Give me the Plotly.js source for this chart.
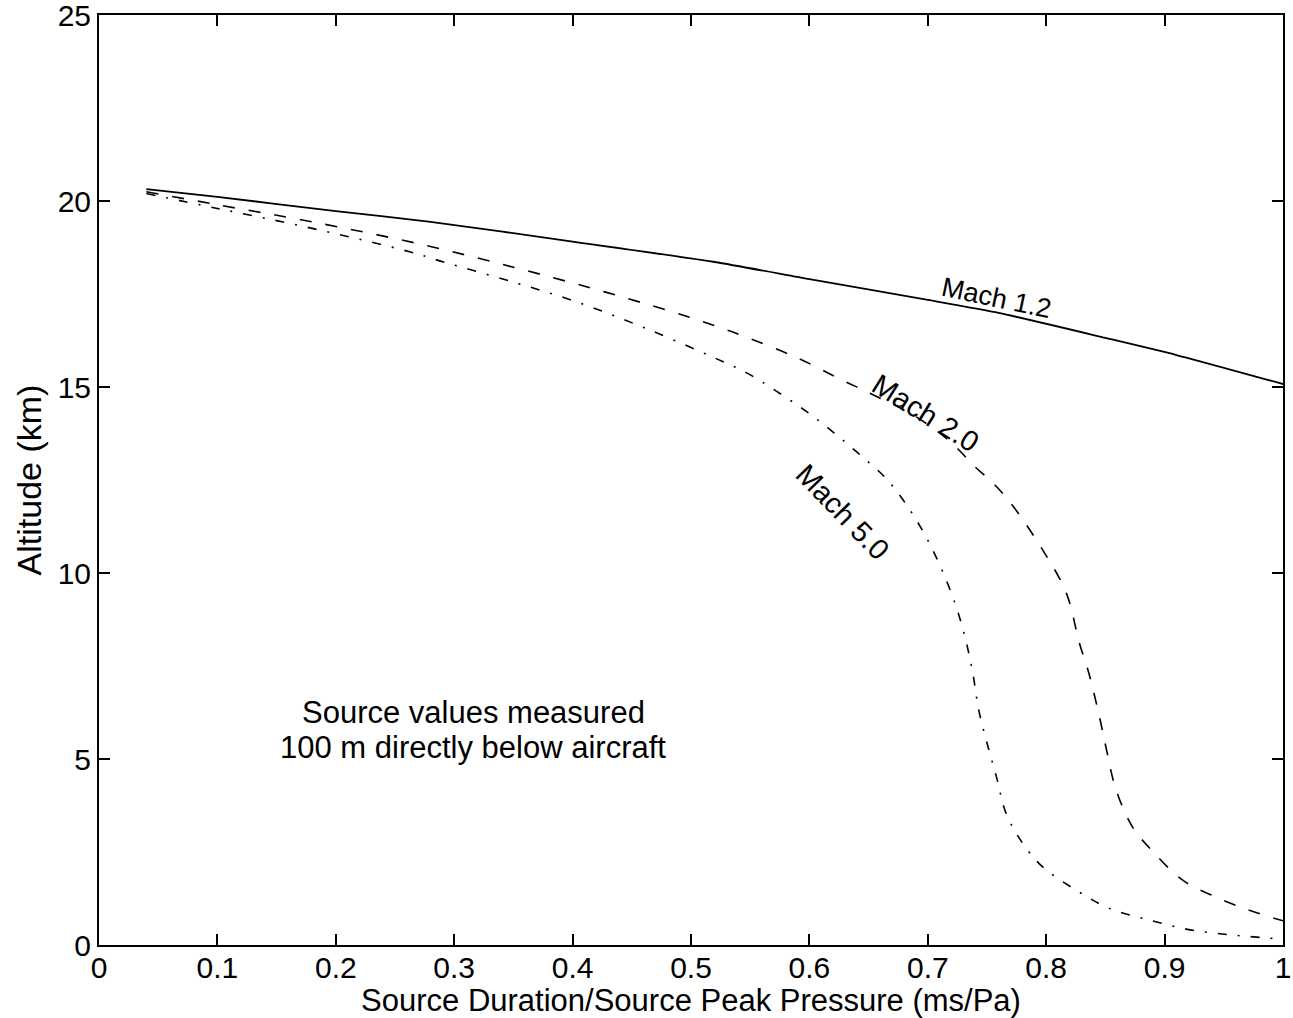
<!DOCTYPE html>
<html>
<head>
<meta charset="utf-8">
<script src="https://cdn.plot.ly/plotly-3.0.1.min.js"></script>
<style>html,body{margin:0;padding:0;background:#fff;}#chart{width:1293px;height:1018px;}</style>
</head>
<body>
<div id="chart"></div>
<script>
const mach12X = [0.04, 0.1, 0.2, 0.28, 0.4, 0.52, 0.6, 0.7, 0.76, 0.85, 0.91, 1.0];
const mach12Y = [20.32, 20.11, 19.73, 19.44, 18.91, 18.36, 17.9, 17.34, 16.99, 16.32, 15.86, 15.08];

const mach20X = [0.04, 0.1, 0.18, 0.27, 0.35, 0.42, 0.48, 0.52, 0.55, 0.59, 0.63, 0.65, 0.69, 0.72, 0.74, 0.755, 0.77, 0.797, 0.817, 0.828, 0.836, 0.845, 0.851, 0.859, 0.873, 0.889, 0.915, 0.943, 0.971, 1.0];
const mach20Y = [20.25, 19.9, 19.44, 18.85, 18.22, 17.62, 17.06, 16.65, 16.3, 15.78, 15.15, 14.85, 14.2, 13.5, 12.85, 12.42, 11.88, 10.62, 9.46, 8.12, 7.31, 6.13, 5.24, 4.17, 3.17, 2.55, 1.75, 1.29, 0.94, 0.65];

const mach50X = [0.04, 0.1, 0.175, 0.263, 0.291, 0.35, 0.406, 0.463, 0.518, 0.547, 0.573, 0.598, 0.62, 0.643, 0.666, 0.685, 0.699, 0.712, 0.724, 0.732, 0.738, 0.743, 0.75, 0.758, 0.766, 0.78, 0.797, 0.825, 0.853, 0.887, 0.923, 0.957, 0.986, 1.0];
const mach50Y = [20.2, 19.8, 19.3, 18.63, 18.36, 17.82, 17.26, 16.56, 15.81, 15.38, 14.87, 14.33, 13.79, 13.17, 12.5, 11.69, 10.94, 10.08, 9.09, 8.2, 7.31, 6.32, 5.43, 4.52, 3.55, 2.74, 2.1, 1.48, 0.99, 0.67, 0.4, 0.27, 0.19, 0.16];

const xTicks = [0, 0.1, 0.2, 0.3, 0.4, 0.5, 0.6, 0.7, 0.8, 0.9, 1];
const xTickText = ['0', '0.1', '0.2', '0.3', '0.4', '0.5', '0.6', '0.7', '0.8', '0.9', '1'];
const yTicks = [0, 5, 10, 15, 20, 25];

const labels = [
  {text: 'Mach 1.2', x: 0.758, y: 17.39, angle: 12, size: 27},
  {text: 'Mach 2.0', x: 0.698, y: 14.3, angle: 32, size: 29},
  {text: 'Mach 5.0', x: 0.628, y: 11.64, angle: 46, size: 29}
];
const noteLines = ['Source values measured', '100 m directly below aircraft'];
const noteY = [6.26, 5.3];

const FONT = 'Liberation Sans, Arial, Helvetica, sans-serif';

const traces = [
  {x: mach12X, y: mach12Y, mode: 'lines', line: {color: '#000', width: 1.8, dash: 'solid', shape: 'spline', smoothing: 0.6}, hoverinfo: 'skip'},
  {x: mach20X, y: mach20Y, mode: 'lines', line: {color: '#000', width: 1.6, dash: '12px,14px', shape: 'spline'}, hoverinfo: 'skip'},
  {x: mach50X, y: mach50Y, mode: 'lines', line: {color: '#000', width: 1.6, dash: '9px,11px,2px,11px', shape: 'spline'}, hoverinfo: 'skip'}
];

const annotations = labels.map(l => ({
  text: l.text, x: l.x, y: l.y, xref: 'x', yref: 'y', showarrow: false,
  textangle: l.angle, font: {family: FONT, size: l.size, color: '#000'}
}));
noteLines.forEach((t, i) => annotations.push({
  text: t, x: 0.316, y: noteY[i], xref: 'x', yref: 'y', showarrow: false,
  align: 'center', font: {family: FONT, size: 31, color: '#000'}
}));

const axisCommon = {
  showgrid: false, zeroline: false, showline: true, linecolor: '#000', linewidth: 2,
  mirror: 'ticks', ticks: 'inside', ticklen: 11, tickwidth: 2, tickcolor: '#000',
  ticklabeloverflow: 'allow',
  tickfont: {family: FONT, size: 30, color: '#000'}
};

const layout = {
  width: 1293, height: 1018,
  margin: {l: 99, r: 10, t: 15, b: 73},
  paper_bgcolor: '#fff', plot_bgcolor: '#fff',
  showlegend: false,
  xaxis: Object.assign({}, axisCommon, {
    range: [0, 1], tickvals: xTicks, ticktext: xTickText, ticklabelstandoff: -5,
    title: {text: 'Source Duration/Source Peak Pressure (ms/Pa)', font: {family: FONT, size: 31, color: '#000'}, standoff: 6}
  }),
  yaxis: Object.assign({}, axisCommon, {
    range: [0, 25], tickvals: yTicks,
    title: {text: 'Altitude (km)', font: {family: FONT, size: 34, color: '#000'}, standoff: 6}
  }),
  annotations: annotations
};

Plotly.newPlot('chart', traces, layout, {displayModeBar: false, staticPlot: true});
</script>
</body>
</html>
